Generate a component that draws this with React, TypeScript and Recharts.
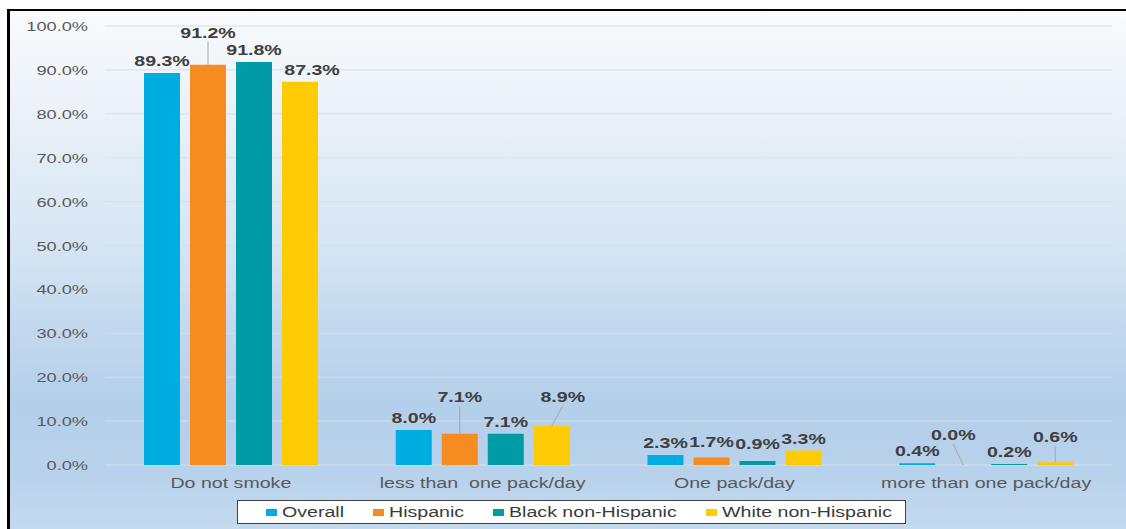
import React from "react"
import { BarChart, Bar, XAxis, YAxis, CartesianGrid, LabelList } from "recharts"

const CATEGORIES = ["Do not smoke", "less than  one pack/day", "One pack/day", "more than one pack/day"]
const OVERALL = [89.3, 8.0, 2.3, 0.4]
const HISPANIC = [91.2, 7.1, 1.7, 0.0]
const BLACK_NH = [91.8, 7.1, 0.9, 0.2]
const WHITE_NH = [87.3, 8.9, 3.3, 0.6]
const Y_TICKS = [0, 10, 20, 30, 40, 50, 60, 70, 80, 90, 100]

const SERIES = [
  { key: "overall", name: "Overall", color: "#00ade0", values: OVERALL },
  { key: "hispanic", name: "Hispanic", color: "#f68b1f", values: HISPANIC },
  { key: "blackNH", name: "Black non-Hispanic", color: "#009ca6", values: BLACK_NH },
  { key: "whiteNH", name: "White non-Hispanic", color: "#ffcb05", values: WHITE_NH },
]

// label nudges per series / category: [dx, dy, leader line]
const LABEL_SHIFT: Record<string, [number, number, boolean][]> = {
  overall: [[0, 0, false], [0, 0, false], [0, 0, false], [0, 0, false]],
  hispanic: [[0, -20, true], [0, -25, true], [0, -4, false], [-10, -18, true]],
  blackNH: [[0, 0, false], [0, 0, false], [0, -5, false], [0, 0, false]],
  whiteNH: [[12, 0, false], [11, -17, true], [0, 0, false], [0, -13, true]],
}

const data = CATEGORIES.map((name, i) => {
  const row: any = { name }
  SERIES.forEach((s) => (row[s.key] = s.values[i]))
  return row
})

const FONT = "'Liberation Sans', Arial, sans-serif"
const SX = 1.4 // the source picture is stretched sideways

let ctx: CanvasRenderingContext2D | null = null
const textWidth = (s: string, font: string) => {
  if (!ctx) ctx = document.createElement("canvas").getContext("2d")
  if (!ctx) return s.length * 8
  ctx.font = font
  return ctx.measureText(s).width
}

function Stretch({ x, y, anchor = "middle", size = 13, weight = 400, fill = "#595959", children }: any) {
  return (
    <text
      transform={`translate(${x},${y}) scale(${SX},1)`}
      textAnchor={anchor}
      fontFamily={FONT}
      fontSize={size}
      fontWeight={weight}
      fill={fill}
      style={{ whiteSpace: "pre" }}
    >
      {children}
    </text>
  )
}

const makeLabel = (key: string) => (props: any) => {
  const { x, y, width, value, index } = props
  const [dx, dy, leader] = LABEL_SHIFT[key][index] || [0, 0, false]
  const cx = Number(x) + Number(width) / 2
  const tx = cx + dx
  const ty = Number(y) - 7 + dy
  return (
    <g>
      {leader && <line x1={tx} y1={ty + 4} x2={cx} y2={Number(y)} stroke="#a6a6a6" strokeWidth={1} />}
      <Stretch x={tx} y={ty} size={14} weight={700} fill="#404040">
        {Number(value).toFixed(1) + "%"}
      </Stretch>
    </g>
  )
}

const XTick = ({ x, y, payload }: any) => (
  <Stretch x={x} y={y + 15} size={14}>{payload.value}</Stretch>
)

const YTick = ({ x, y, payload }: any) => (
  <Stretch x={x} y={y + 5} anchor="end" size={13}>{payload.value.toFixed(1) + "%"}</Stretch>
)

function LegendBox() {
  const font = `14px ${FONT}`
  return (
    <div
      style={{
        position: "absolute", left: 237, top: 500, width: 669, height: 24, boxSizing: "border-box",
        background: "#fff", border: "1px solid #404040", display: "flex", alignItems: "center",
        paddingLeft: 28, fontFamily: FONT, fontSize: 14, color: "#3a3a3a",
      }}
    >
      {SERIES.map((s) => (
        <div key={s.key} style={{ display: "flex", alignItems: "center", marginRight: 29 }}>
          <span style={{ width: 11, height: 7, background: s.color, marginRight: 5 }} />
          <span style={{ display: "inline-block", width: textWidth(s.name, font) * SX, whiteSpace: "nowrap" }}>
            <span style={{ display: "inline-block", transform: `scaleX(${SX})`, transformOrigin: "left" }}>{s.name}</span>
          </span>
        </div>
      ))}
    </div>
  )
}

export default function App() {
  return (
    <div style={{ position: "fixed", left: 0, top: 0, width: 1126, height: 529, background: "#fff", overflow: "hidden" }}>
      <div
        style={{
          position: "absolute", left: 7, top: 9, right: 0, bottom: 0,
          borderTop: "2px solid #000", borderLeft: "3px solid #000",
          background: "linear-gradient(to bottom, #f9fbfd 0%, #eaf1f8 20%, #d6e5f3 45%, #c2d8ee 62%, #b4cfea 76%, #b9d2ec 90%, #c4daee 100%)",
        }}
      />
      <div style={{ position: "absolute", left: 0, top: 0 }}>
        <BarChart
          width={1126}
          height={529}
          data={data}
          margin={{ top: 26, right: 14, left: 0, bottom: 34 }}
          barGap={10}
          barCategoryGap={39}
        >
          <CartesianGrid vertical={false} stroke="#d7dee7" />
          <XAxis dataKey="name" height={30} tickLine={false} axisLine={false} tick={<XTick />} interval={0} />
          <YAxis
            domain={[0, 100]}
            ticks={Y_TICKS}
            width={105}
            tickLine={false}
            axisLine={false}
            tickMargin={11}
            tick={<YTick />}
          />
          {SERIES.map((s) => (
            <Bar
              key={s.key}
              dataKey={s.key}
              name={s.name}
              fill={s.color}
              minPointSize={(v: number) => (v === 0 ? 0.01 : 0)}
              isAnimationActive={false}
            >
              <LabelList dataKey={s.key} content={makeLabel(s.key)} />
            </Bar>
          ))}
        </BarChart>
      </div>
      <LegendBox />
    </div>
  )
}
